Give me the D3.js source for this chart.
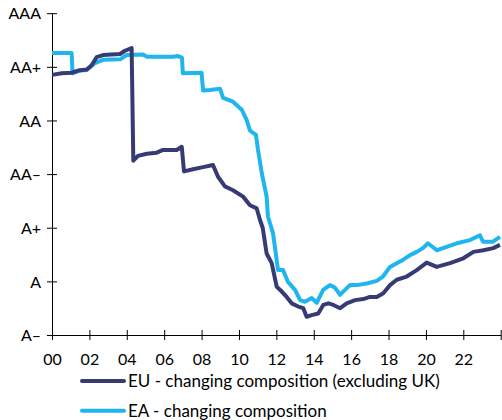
<!DOCTYPE html>
<html>
<head>
<meta charset="utf-8">
<script src="https://cdn.jsdelivr.net/npm/d3@7"></script>
<style>
  body { margin: 0; background: #fff; }
  text { font-family: Lato, "Open Sans", sans-serif; fill: #000; }
</style>
</head>
<body>
<div id="chart"></div>
<script>
// rating scale, A- = 0 ... AAA = 6
var ratingLabels = ["A–", "A", "A+", "AA–", "AA", "AA+", "AAA"];
var yearTicks = [2000, 2002, 2004, 2006, 2008, 2010, 2012, 2014, 2016, 2018, 2020, 2022, 2024];
var seriesNames = ["EU - changing composition (excluding UK)", "EA - changing composition"];

var euYears = [2000.0, 2000.52, 2001.05, 2001.39, 2001.86, 2002.12, 2002.39, 2002.73, 2003.64, 2003.9, 2004.26, 2004.35, 2004.6, 2005.07, 2005.6, 2005.94, 2006.67, 2006.94, 2007.06, 2007.54, 2008.08, 2008.61, 2008.88, 2009.25, 2009.68, 2010.22, 2010.59, 2010.95, 2011.13, 2011.27, 2011.48, 2011.75, 2012.02, 2012.29, 2012.55, 2012.82, 2013.17, 2013.44, 2013.62, 2013.89, 2014.24, 2014.51, 2014.78, 2015.05, 2015.41, 2015.76, 2016.21, 2016.65, 2017.01, 2017.37, 2017.72, 2018.08, 2018.44, 2018.97, 2019.51, 2020.04, 2020.58, 2021.29, 2022.0, 2022.54, 2023.07, 2023.6, 2023.96];
var euValues = [4.85, 4.88, 4.89, 4.93, 4.95, 5.03, 5.18, 5.22, 5.24, 5.30, 5.35, 3.25, 3.34, 3.38, 3.40, 3.45, 3.45, 3.51, 3.05, 3.09, 3.13, 3.17, 2.95, 2.77, 2.70, 2.58, 2.42, 2.36, 2.14, 2.00, 1.52, 1.34, 0.90, 0.81, 0.71, 0.59, 0.53, 0.50, 0.34, 0.37, 0.40, 0.56, 0.59, 0.56, 0.50, 0.59, 0.65, 0.67, 0.71, 0.71, 0.78, 0.93, 1.03, 1.09, 1.21, 1.35, 1.27, 1.34, 1.43, 1.55, 1.58, 1.62, 1.68];

var eaYears = [2000.0, 2001.05, 2001.1, 2001.5, 2001.86, 2002.3, 2002.73, 2003.64, 2004.0, 2004.87, 2005.08, 2006.47, 2006.74, 2006.95, 2007.0, 2008.0, 2008.08, 2008.45, 2008.99, 2009.15, 2009.68, 2010.15, 2010.41, 2010.59, 2010.91, 2011.02, 2011.22, 2011.48, 2011.55, 2011.82, 2012.09, 2012.36, 2012.62, 2013.0, 2013.27, 2013.53, 2013.89, 2014.16, 2014.5, 2014.87, 2015.14, 2015.41, 2015.67, 2015.94, 2016.3, 2016.83, 2017.37, 2017.7, 2018.08, 2018.44, 2018.77, 2019.15, 2019.51, 2019.84, 2020.11, 2020.58, 2020.91, 2021.65, 2022.36, 2022.89, 2023.05, 2023.59, 2023.96];
var eaValues = [5.26, 5.26, 4.88, 4.93, 4.94, 5.07, 5.13, 5.14, 5.22, 5.23, 5.19, 5.19, 5.20, 5.17, 4.88, 4.89, 4.56, 4.57, 4.59, 4.42, 4.35, 4.20, 4.01, 3.81, 3.73, 3.45, 3.02, 2.58, 2.21, 1.90, 1.21, 1.21, 0.99, 0.84, 0.65, 0.62, 0.69, 0.60, 0.84, 0.93, 0.88, 0.75, 0.84, 0.93, 0.93, 0.96, 1.01, 1.09, 1.27, 1.34, 1.40, 1.49, 1.55, 1.62, 1.71, 1.58, 1.62, 1.71, 1.77, 1.86, 1.74, 1.74, 1.83];

var color_eu = "#363b75";
var color_ea = "#1fb5ee";

var width = 502, height = 420;
var svg = d3.select("#chart")
    .append("svg")
    .attr("width", width)
    .attr("height", height);

var x = d3.scaleLinear().domain([2000, 2024]).range([52, 500.7]);
var y = d3.scaleLinear().domain([0, 6]).range([335, 13.2]);

//y axis
var yAxis = svg.append("g")
    .attr("transform", "translate(52,0)")
    .call(d3.axisLeft(y)
        .tickValues(d3.range(ratingLabels.length))
        .tickFormat(i => ratingLabels[i])
        .tickSizeInner(5)
        .tickSizeOuter(0)
        .tickPadding(6));
yAxis.selectAll(".tick line").attr("x1", 5).attr("x2", -5);
yAxis.selectAll(".tick text").style("font-size", "16px").attr("dy", "0.36em");

//x axis
var xAxis = svg.append("g")
    .attr("transform", "translate(0,335)")
    .call(d3.axisBottom(x)
        .tickValues(yearTicks)
        .tickFormat(d => d == 2024 ? "" : d3.format("02")(d % 100))
        .tickSizeInner(5)
        .tickSizeOuter(0));
xAxis.selectAll(".tick line").attr("y1", -5).attr("y2", 5);
xAxis.selectAll(".tick text").style("font-size", "16px").attr("y", 30).attr("dy", 0);
svg.selectAll(".domain").attr("stroke", "#000");
svg.selectAll(".tick line").attr("stroke", "#000");

//lines
var line = d3.line()
    .x(d => x(d[0]))
    .y(d => y(d[1]));

var euData = d3.zip(euYears, euValues);
var eaData = d3.zip(eaYears, eaValues);

svg.append("path")
    .datum(eaData)
    .attr("d", line)
    .attr("fill", "none")
    .attr("stroke", color_ea)
    .attr("stroke-width", 4)
    .attr("stroke-linejoin", "round");

svg.append("path")
    .datum(euData)
    .attr("d", line)
    .attr("fill", "none")
    .attr("stroke", color_eu)
    .attr("stroke-width", 4)
    .attr("stroke-linejoin", "round");

//legend
var legend = svg.selectAll("g.legend")
    .data([color_eu, color_ea])
    .enter()
    .append("g")
    .attr("transform", (d, i) => "translate(82," + (381 + i * 29.7) + ")");
legend.append("line")
    .attr("x1", 0).attr("x2", 42)
    .attr("stroke", d => d)
    .attr("stroke-width", 4)
    .attr("stroke-linecap", "round");
legend.append("text")
    .attr("x", 46)
    .attr("y", 6)
    .style("font-size", "17px")
    .text((d, i) => seriesNames[i]);
</script>
</body>
</html>
